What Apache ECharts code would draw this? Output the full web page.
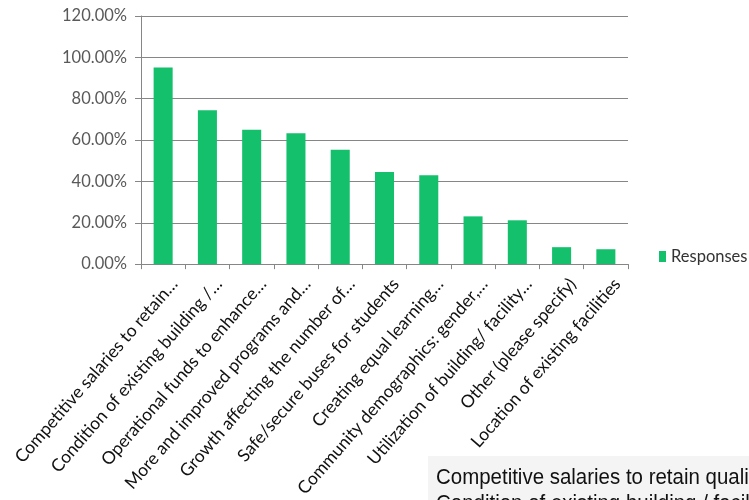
<!DOCTYPE html>
<html>
<head>
<meta charset="utf-8">
<script src="https://cdn.jsdelivr.net/npm/echarts@6/dist/echarts.min.js"></script>
<style>
  html, body { margin: 0; padding: 0; background: #fff; }
  #chart { width: 749px; height: 500px; }
</style>
</head>
<body>
<div id="chart"></div>
<script>
// Survey answers: share of respondents choosing each factor
const categories = [
  'Competitive salaries to retain…',
  'Condition of existing building /…',
  'Operational funds to enhance…',
  'More and improved programs and…',
  'Growth affecting the number of…',
  'Safe/secure buses for students',
  'Creating equal learning…',
  'Community demographics: gender,…',
  'Utilization of building/ facility…',
  'Other (please specify)',
  'Location of existing facilities'
];
const responses = [95.1, 74.4, 65.0, 63.3, 55.3, 44.5, 43.0, 23.1, 21.2, 8.2, 7.2];
const seriesName = 'Responses';
const footerLines = [
  'Competitive salaries to retain quality teachers',
  'Condition of existing building / facilities'
];

const chart = echarts.init(document.getElementById('chart'));
const green = '#14c06b';
const font = 'Lato, "Open Sans", sans-serif';

chart.setOption({
  animation: false,
  backgroundColor: '#ffffff',
  grid: { left: 141, right: 121, top: 16, bottom: 235, containLabel: false },
  legend: {
    data: [seriesName],
    left: 654, top: 243,
    orient: 'vertical',
    itemWidth: 7, itemHeight: 11, itemGap: 4,
    icon: 'rect',
    textStyle: { fontFamily: font, fontSize: 16.5, color: '#333' }
  },
  xAxis: {
    type: 'category',
    data: categories,
    axisLine: { lineStyle: { color: '#868686', width: 1 } },
    axisTick: { show: true, length: 5, alignWithLabel: false, lineStyle: { color: '#868686' } },
    axisLabel: {
      interval: 0, rotate: 49, margin: 7,
      verticalAlign: 'top', padding: [6, 0, 0, 0],
      fontFamily: font, fontSize: 17.5, color: '#111'
    }
  },
  yAxis: {
    type: 'value',
    min: 0, max: 120, interval: 20,
    axisLine: { show: true, lineStyle: { color: '#868686', width: 1 } },
    axisTick: { show: true, length: 6, lineStyle: { color: '#868686' } },
    splitLine: { lineStyle: { color: '#868686', width: 1 } },
    axisLabel: {
      margin: 14,
      fontFamily: font, fontSize: 16.5, color: '#595959',
      formatter: v => v.toFixed(2) + '%'
    }
  },
  series: [{
    name: seriesName,
    type: 'bar',
    data: responses,
    barWidth: '43%',
    itemStyle: { color: green }
  }],
  graphic: [
    {
      type: 'rect', left: 428, top: 456, z: -1,
      shape: { width: 321, height: 44 },
      style: { fill: '#f4f4f4' }
    },
    {
      type: 'text', left: 436, top: 467, scaleX: 0.93,
      style: { text: footerLines[0], font: '22px "Liberation Sans", Arial, sans-serif', fill: '#111' }
    },
    {
      type: 'text', left: 436, top: 493, scaleX: 0.93,
      style: { text: footerLines[1], font: '22px "Liberation Sans", Arial, sans-serif', fill: '#111' }
    }
  ]
});
</script>
</body>
</html>
